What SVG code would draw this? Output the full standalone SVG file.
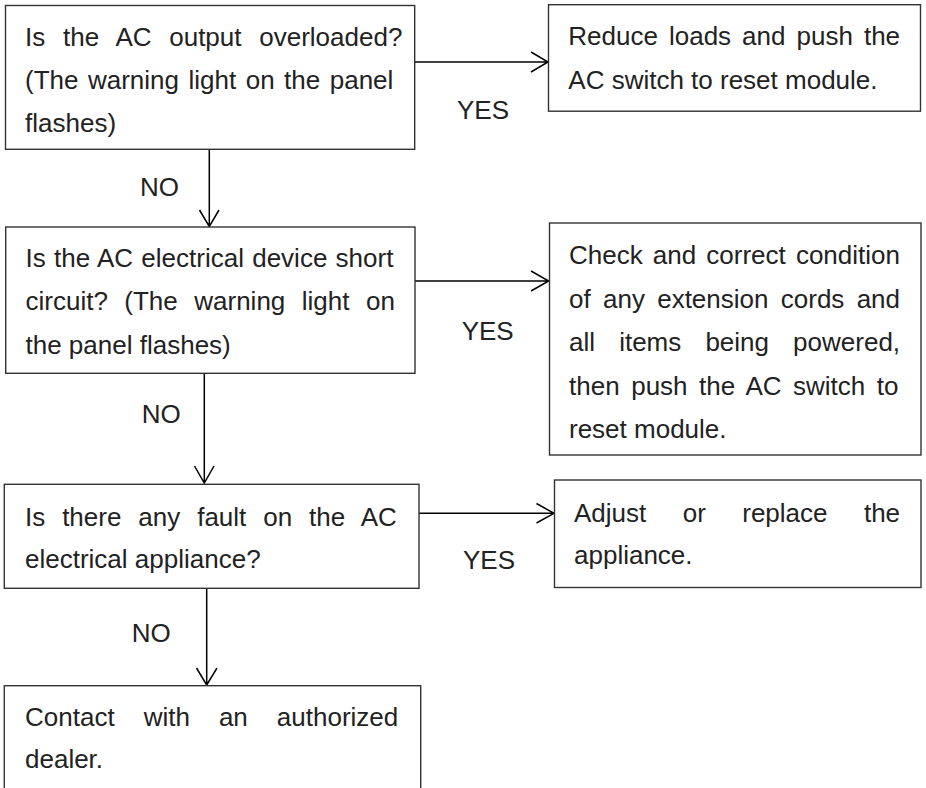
<svg xmlns="http://www.w3.org/2000/svg" width="926" height="788" viewBox="0 0 926 788">
<style>
.box{fill:#fff;stroke:#333;stroke-width:1.4}
.t{font-family:"Liberation Sans",Arial,sans-serif;font-size:26px;fill:#222}
.ln{fill:none;stroke:#000;stroke-width:1.5}
</style>
<rect width="926" height="788" fill="#fff"/>
<g id="connectors">
<path class="ln" d="M415,62 H548 M531,52 L548,62 L531,72"/>
<path class="ln" d="M209.3,149.5 V226.5 M199.5,210 L209.3,226.5 L219,210"/>
<path class="ln" d="M204.3,373.5 V483 M194.5,466 L204.3,483 L214,466"/>
<path class="ln" d="M415,281 H548.7 M531,271 L548.7,281 L531,291"/>
<path class="ln" d="M419,513.3 H554 M536.5,503.5 L554,513.3 L536.5,523"/>
<path class="ln" d="M206.7,588.3 V685 M196.5,668 L206.7,685 L217,668"/>
<text class="t" x="140" y="196">NO</text>
<text class="t" x="457" y="119">YES</text>
<text class="t" x="141.7" y="422.7">NO</text>
<text class="t" x="461.7" y="340">YES</text>
<text class="t" x="463" y="569.3">YES</text>
<text class="t" x="131.7" y="641.7">NO</text>
</g>
<g id="n1">
<rect class="box" x="5.5" y="5.5" width="409.2" height="143.8"/>
<text class="t" x="25" y="46" word-spacing="10.5">Is the AC output overloaded?</text>
<text class="t" x="25" y="89.3" word-spacing="2.27">(The warning light on the panel</text>
<text class="t" x="25" y="132">flashes)</text>
</g>
<g id="n2">
<rect class="box" x="548.5" y="4.7" width="372" height="106.5"/>
<text class="t" x="568.3" y="45" word-spacing="3.8">Reduce loads and push the</text>
<text class="t" x="568.3" y="89">AC switch to reset module.</text>
</g>
<g id="n3">
<rect class="box" x="5.7" y="227" width="409.3" height="146.3"/>
<text class="t" x="25.5" y="267" word-spacing="1.04">Is the AC electrical device short</text>
<text class="t" x="25.5" y="310.3" word-spacing="9.25">circuit? (The warning light on</text>
<text class="t" x="25.5" y="353.5">the panel flashes)</text>
</g>
<g id="n4">
<rect class="box" x="549.5" y="223" width="371.5" height="232"/>
<text class="t" x="569" y="264" word-spacing="2.9">Check and correct condition</text>
<text class="t" x="569" y="307.5" word-spacing="5.07">of any extension cords and</text>
<text class="t" x="569" y="351" word-spacing="16.9">all items being powered,</text>
<text class="t" x="569" y="394.5" word-spacing="4.34">then push the AC switch to</text>
<text class="t" x="569" y="438">reset module.</text>
</g>
<g id="n5">
<rect class="box" x="4.3" y="484.3" width="414.7" height="104"/>
<text class="t" x="25" y="525.7" word-spacing="9.7">Is there any fault on the AC</text>
<text class="t" x="25" y="568.3">electrical appliance?</text>
</g>
<g id="n6">
<rect class="box" x="554.5" y="480" width="366.5" height="107.5"/>
<text class="t" x="574" y="521.7" word-spacing="29.2">Adjust or replace the</text>
<text class="t" x="574" y="564.3">appliance.</text>
</g>
<g id="n7">
<rect class="box" x="4.3" y="685.7" width="416.4" height="120"/>
<text class="t" x="25" y="725.7" word-spacing="21.8">Contact with an authorized</text>
<text class="t" x="25" y="768.3">dealer.</text>
</g>
</svg>
